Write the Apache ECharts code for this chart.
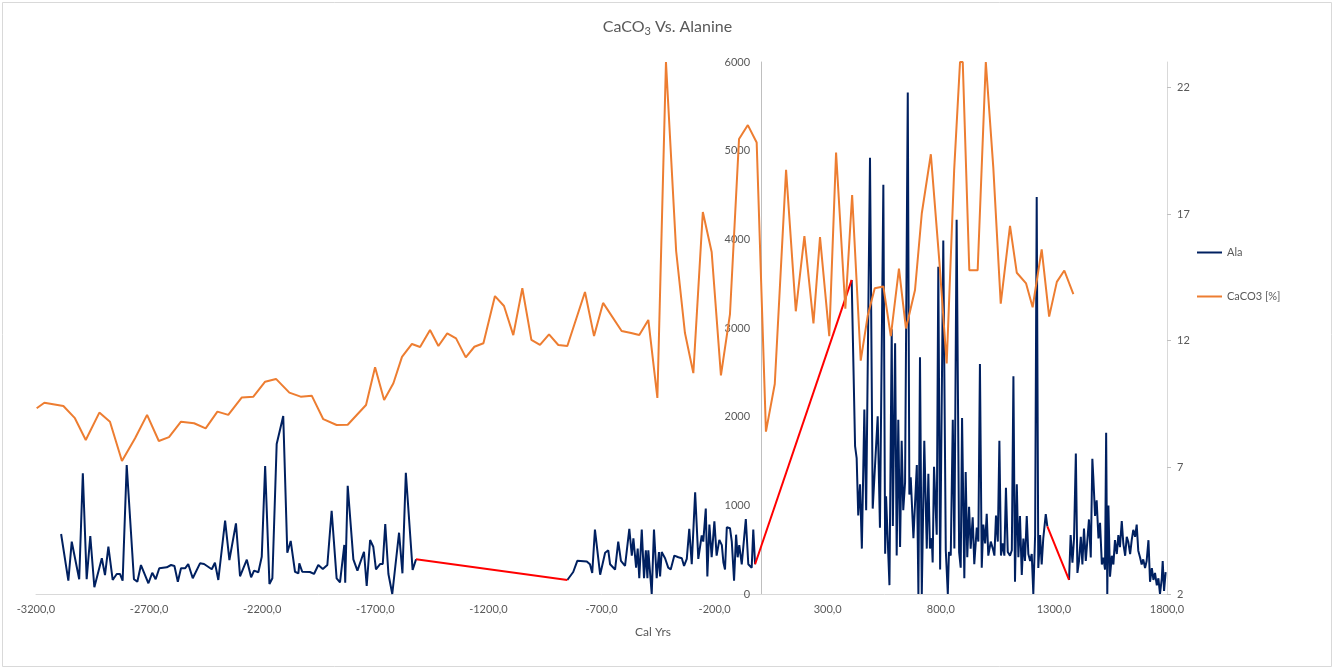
<!DOCTYPE html>
<html>
<head>
<meta charset="utf-8">
<title>CaCO3 Vs. Alanine</title>
<script src="https://cdn.jsdelivr.net/npm/echarts@6/dist/echarts.min.js"></script>
<style>
  html, body { margin: 0; padding: 0; background: #ffffff; }
  #chart { width: 1335px; height: 670px; }
</style>
</head>
<body>
<div id="chart"></div>
<script>
// Alanine concentration (left axis) by calibrated year
const alaYears = [
  -3089,-3057,-3042,-3009,-2993,-2976,-2960,-2942,-2909,-2895,-2880,-2861,-2843,-2829,-2817,-2799,-2767,-2752,-2736,-2703,
  -2686,-2671,-2655,-2622,-2603,-2588,-2573,-2559,-2541,-2527,-2507,-2475,-2457,-2423,-2409,-2394,-2364,-2345,-2316,-2298,
  -2268,-2249,-2236,-2217,-2202,-2187,-2168,-2155,-2136,-2107,-2089,-2074,-2055,-2040,-2036,-2023,-1989,-1971,-1952,-1932,
  -1912,-1893,-1871,-1856,-1837,-1833,-1822,-1797,-1779,-1750,-1738,-1723,-1709,-1697,-1679,-1667,-1656,-1642,-1625,-1595,
  -1580,-1565,-1535,-1520,
  -851,-825,-807,-765,-751,-741,-729,-706,-684,-670,-662,-640,-626,-614,-596,-577,-566,-559,-547,-540,
  -533,-522,-512,-504,-497,-493,-478,-468,-456,-446,-441,-434,-419,-405,-394,-378,-360,-345,-335,-323,
  -312,-301,-286,-272,-257,-250,-239,-232,-223,-213,-201,-191,-179,-168,-161,-154,-146,-132,-124,-114,
  -105,-98,-91,-80,-62,-51,-36,-29,-21,
  406,421,428,435,443,451,462,470,487,499,521,531,546,554,558,573,583,588,598,605,
  612,620,627,634,642,654,661,667,679,694,701,708,716,727,738,745,752,760,764,770,
  782,789,797,811,822,831,836,844,853,860,870,881,888,894,904,910,917,925,932,941,
  948,959,966,973,981,988,996,1003,1010,1021,1030,1037,1044,1052,1059,1066,1074,1081,1088,1096,
  1106,1114,1121,1128,1136,1143,1150,1158,1165,1172,1180,1187,1195,1202,1209,1217,1224,1231,1239,1246,
  1253,1264,1271,
  1367,1374,1382,1389,1397,1404,1411,1419,1426,1433,1441,1448,1455,1463,1470,1474,1482,1489,1497,1504,
  1512,1519,1526,1531,1536,1541,1548,1556,1563,1570,1578,1585,1592,1600,1607,1615,1622,1629,1637,1644,
  1651,1659,1666,1673,1681,1688,1695,1703,1710,1718,1725,1733,1740,1747,1755,1762,1769,1777,1781,1787,
  1794
];
const alaValues = [
  677,150,590,166,1361,166,654,76,403,214,533,158,226,226,150,1455,166,139,327,121,
  240,166,290,301,327,316,139,290,290,338,177,346,338,279,353,158,827,383,797,200,
  387,188,263,245,421,1444,113,177,1692,2007,466,598,251,233,346,251,248,226,327,282,
  327,939,177,132,553,127,1221,391,263,477,90,609,533,279,338,338,789,226,0,691,
  233,1368,271,391,
  158,248,374,367,335,237,727,218,465,493,335,276,591,374,316,735,433,629,297,512,
  178,727,178,493,178,493,0,727,178,473,198,473,403,297,277,433,414,403,316,395,
  735,335,1148,395,661,591,963,198,783,414,821,433,610,551,354,276,753,742,591,151,
  669,414,551,335,846,335,297,727,335,
  3542,1669,1533,885,1238,512,2082,944,4921,963,2004,748,4615,453,1101,100,2985,767,2829,433,
  1965,531,1729,944,1257,5655,1121,1317,629,1454,0,2671,0,1729,512,1356,512,629,355,1435,
  669,3691,276,3986,493,0,473,433,1965,512,4221,473,297,1984,178,1375,414,983,512,866,
  335,748,591,2593,297,783,571,904,433,591,512,433,885,591,1729,433,571,433,1199,473,
  433,493,2455,139,1238,414,880,214,626,372,880,451,372,451,0,665,4477,293,665,333,
  626,900,764,
  158,665,353,626,1585,237,372,645,333,738,372,607,841,411,1526,1331,880,1057,626,802,
  333,411,274,1819,0,998,196,431,333,607,451,665,529,822,567,431,645,586,451,607,
  724,645,783,489,411,333,391,293,372,607,138,293,158,237,98,177,0,177,372,34,
  247
];
// Last sample year before each gap in the alanine record; gaps are bridged in red
const alaGapStarts = [-1520, -21, 1271];

// CaCO3 content (right axis, %) by calibrated year
const caco3Years = [
  -3197,-3163,-3079,-3028,-2980,-2920,-2873,-2820,-2762,-2709,
  -2657,-2612,-2559,-2501,-2450,-2398,-2350,-2290,-2239,-2187,
  -2139,-2080,-2030,-1981,-1930,-1871,-1822,-1741,-1701,-1661,
  -1620,-1582,-1538,-1502,-1458,-1421,-1382,-1343,-1300,-1262,
  -1222,-1171,-1131,-1090,-1050,-1010,-972,-932,-891,-851,
  -773,-733,-693,-611,-569,-533,-493,-453,-415,-407,
  -370,-331,-294,-252,-213,-172,-132,-92,-53,-14,
  27,66,116,159,197,237,266,307,337,378,
  408,446,477,508,546,579,615,646,686,716,
  756,794,826,859,885,897,926,963,999,1032,
  1065,1106,1136,1177,1206,1246,1279,1313,1346,1386
];
const caco3Values = [
  9.33,9.55,9.42,8.94,8.08,9.16,8.8,7.25,8.15,9.07,
  8.04,8.19,8.8,8.74,8.54,9.2,9.07,9.76,9.79,10.38,
  10.49,9.95,9.79,9.83,8.9,8.67,8.68,9.46,10.95,9.66,
  10.32,11.36,11.87,11.75,12.42,11.79,12.29,12.09,11.34,11.76,
  11.9,13.76,13.37,12.22,14.07,12.03,11.83,12.25,11.83,11.79,
  13.92,12.18,13.49,12.38,12.3,12.22,12.82,9.74,23,23,
  15.54,12.3,10.72,17.08,15.5,10.63,13.05,19.96,20.51,19.82,
  8.41,10.29,18.74,13.16,16.13,12.68,16.09,12.18,19.43,13.26,
  17.75,11.21,12.99,14.07,14.14,12.18,14.84,12.48,14.0,17.03,
  19.36,15.08,11.1,18.72,23,23,14.78,14.78,23,18.85,
  13.46,16.53,14.68,14.26,13.32,15.6,12.95,14.32,14.77,13.84
];

// Axis ticks
const yearTicks = { min: -3200, max: 1800, step: 500 };
const alaTicks = { min: 0, max: 6000, step: 1000 };
const caco3TickValues = [2, 7, 12, 17, 22];
const caco3Range = { min: 2, max: 23 };

const FONT = 'Lato, "Open Sans", "Liberation Sans", sans-serif';
const TEXT = '#595959';
const GRID_LEFT = 36;

// Alanine line with breaks where the record has gaps
const alaData = [];
alaYears.forEach((yr, i) => {
  alaData.push([yr, alaValues[i]]);
  if (alaGapStarts.includes(yr) && i < alaYears.length - 1) alaData.push([yr, '-']);
});

// Red connectors spanning each gap
const bridgeSeries = alaGapStarts.map((yr, k) => {
  const i = alaYears.indexOf(yr);
  return {
    name: 'gap' + k,
    type: 'line',
    yAxisIndex: 0,
    symbol: 'none',
    silent: true,
    z: 3,
    lineStyle: { color: '#ff0000', width: 2 },
    data: [[alaYears[i], alaValues[i]], [alaYears[i + 1], alaValues[i + 1]]]
  };
});

const caco3Data = caco3Years.map((yr, i) => [yr, caco3Values[i]]);

const chart = echarts.init(document.getElementById('chart'), null, { renderer: 'canvas' });

chart.setOption({
  backgroundColor: '#ffffff',
  animation: false,
  textStyle: { fontFamily: FONT },
  title: {
    text: 'CaCO{sub|3} Vs. Alanine',
    left: 'center',
    top: 11,
    textStyle: {
      fontFamily: FONT,
      fontSize: 16,
      fontWeight: 'normal',
      color: TEXT,
      rich: {
        sub: { fontFamily: FONT, fontSize: 11, color: TEXT, padding: [10, 0, 0, 0] }
      }
    }
  },
  legend: {
    orient: 'vertical',
    left: 1192,
    top: 242,
    icon: 'rect',
    itemWidth: 25,
    itemHeight: 2,
    itemGap: 33,
    data: ['Ala', 'CaCO3 [%]'],
    textStyle: { fontFamily: FONT, fontSize: 11, color: TEXT }
  },
  grid: { left: GRID_LEFT, right: 168, top: 62, bottom: 76 },
  xAxis: {
    type: 'value',
    min: yearTicks.min,
    max: yearTicks.max,
    interval: yearTicks.step,
    axisLine: { onZero: false, lineStyle: { color: '#d9d9d9', width: 1 } },
    axisTick: { show: false },
    splitLine: { show: false },
    axisLabel: {
      color: TEXT,
      fontFamily: FONT,
      fontSize: 11,
      margin: 10,
      formatter: v => v.toFixed(1).replace('.', ',')
    }
  },
  yAxis: [
    {
      type: 'value',
      position: 'left',
      min: alaTicks.min,
      max: alaTicks.max,
      interval: alaTicks.step,
      offset: 0,
      axisLine: { show: true, onZero: false, lineStyle: { color: '#bfbfbf', width: 1 } },
      axisTick: { show: false },
      splitLine: { show: false },
      axisLabel: { color: TEXT, fontFamily: FONT, fontSize: 11, margin: 11, formatter: v => String(v) }
    },
    {
      type: 'value',
      position: 'right',
      min: caco3Range.min,
      max: caco3Range.max,
      interval: 5,
      axisLine: { show: true, onZero: false, lineStyle: { color: '#d9d9d9', width: 1 } },
      axisTick: { show: true, length: 4, customValues: caco3TickValues, lineStyle: { color: '#bfbfbf' } },
      splitLine: { show: false },
      axisLabel: { customValues: caco3TickValues, color: TEXT, fontFamily: FONT, fontSize: 11, margin: 10 }
    }
  ],
  series: [
    {
      name: 'Ala',
      type: 'line',
      yAxisIndex: 0,
      symbol: 'none',
      connectNulls: false,
      z: 2,
      color: '#002060',
      lineStyle: { color: '#002060', width: 2 },
      data: alaData
    },
    ...bridgeSeries,
    {
      name: 'CaCO3 [%]',
      type: 'line',
      yAxisIndex: 1,
      symbol: 'none',
      z: 4,
      color: '#ed7d31',
      lineStyle: { color: '#ed7d31', width: 2 },
      data: caco3Data
    }
  ],
  graphic: [
    {
      type: 'rect',
      silent: true,
      shape: { x: 2.5, y: 2.5, width: 1329, height: 664 },
      style: { fill: null, stroke: '#d9d9d9', lineWidth: 1 }
    },
    {
      type: 'text',
      silent: true,
      x: 653,
      y: 632,
      style: {
        text: 'Cal Yrs',
        fill: TEXT,
        font: '12px ' + FONT,
        textAlign: 'center',
        textVerticalAlign: 'middle'
      }
    }
  ]
});

// The alanine axis crosses the year axis at year 0: shift it inward to that point
const zeroX = chart.convertToPixel({ xAxisIndex: 0 }, 0);
chart.setOption({ yAxis: [{ offset: -(zeroX - GRID_LEFT) }, {}] });
</script>
</body>
</html>
